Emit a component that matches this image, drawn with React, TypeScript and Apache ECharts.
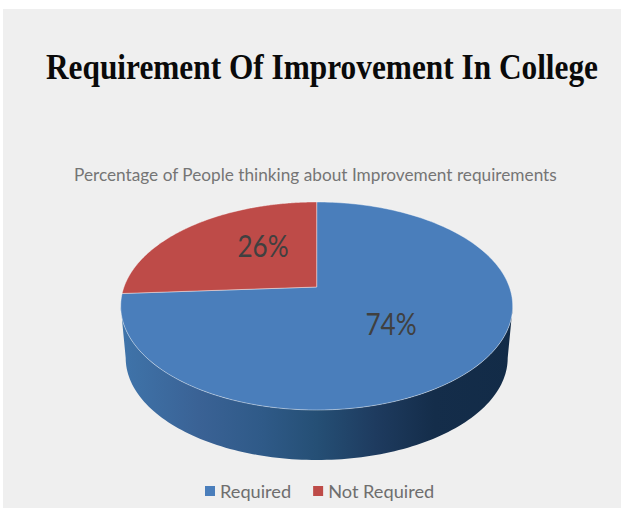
import React, { useEffect, useRef } from "react";
import * as echarts from "echarts";

const categories = ["Required", "Not Required"];
const values = [74, 26];
const valueLabels = ["74%", "26%"];
const sliceColors = ["#4a7ebb", "#be4b48"];
const titleText = "Requirement Of Improvement In College";
const subtitleText = "Percentage of People thinking about Improvement requirements";

const TOP = { cx: 316.7, cy: 306, rx: 196, ry: 104 };
const BOTTOM = { cx: 316.7, cy: 358, rx: 191, ry: 102 };
const APEX = { x: 316.7, y: 287 };
const LABEL_POS = [
  { x: 391, y: 323 },
  { x: 263, y: 245 },
];

// Where a ray from the apex at clockwise angle a (from 12 o'clock) meets the ellipse, as ellipse parameter t.
function rayParam(a: number): number {
  const k = TOP.ry / TOP.rx;
  const dx = Math.sin(a);
  const dy = -k * Math.cos(a);
  const ox = (APEX.x - TOP.cx) / TOP.rx;
  const oy = (APEX.y - TOP.cy) / TOP.ry;
  const ux = dx / TOP.rx;
  const uy = dy / TOP.ry;
  const A = ux * ux + uy * uy;
  const B = 2 * (ox * ux + oy * uy);
  const C = ox * ox + oy * oy - 1;
  const s = (-B + Math.sqrt(B * B - 4 * A * C)) / (2 * A);
  const ex = ox + ux * s;
  const ey = oy + uy * s;
  let t = Math.atan2(ex, -ey);
  if (t < 0) t += Math.PI * 2;
  return t;
}

function ellipsePoint(e: typeof TOP, t: number): number[] {
  return [e.cx + e.rx * Math.sin(t), e.cy - e.ry * Math.cos(t)];
}

function sliceAngles(i: number): number[] {
  const total = values.reduce((a, b) => a + b, 0);
  const before = values.slice(0, i).reduce((a, b) => a + b, 0);
  return [(before / total) * Math.PI * 2, ((before + values[i]) / total) * Math.PI * 2];
}

function renderSlice(params: any, api: any) {
  const i = params.seriesIndex;
  const [a0, a1] = sliceAngles(i);
  const t0 = a0 === 0 ? 0 : rayParam(a0);
  let t1 = rayParam(a1 - 1e-6);
  if (t1 < t0) t1 += Math.PI * 2;
  const pts: number[][] = [[APEX.x, APEX.y]];
  const steps = 240;
  for (let s = 0; s <= steps; s++) pts.push(ellipsePoint(TOP, t0 + ((t1 - t0) * s) / steps));
  const children: any[] = [];
  if (i === 0) {
    const wall: number[][] = [];
    for (let s = 0; s <= 120; s++) wall.push(ellipsePoint(TOP, Math.PI / 2 + (Math.PI * s) / 120));
    for (let s = 0; s <= 120; s++) wall.push(ellipsePoint(BOTTOM, (Math.PI * 3) / 2 - (Math.PI * s) / 120));
    children.push({
      type: "polygon",
      shape: { points: wall },
      style: {
        fill: {
          type: "linear", x: 0, y: 0, x2: 1, y2: 0,
          colorStops: [
            { offset: 0, color: "#3f74aa" },
            { offset: 0.2, color: "#3a6295" },
            { offset: 0.36, color: "#2f5a88" },
            { offset: 0.5, color: "#254f75" },
            { offset: 0.65, color: "#1e3b5f" },
            { offset: 0.8, color: "#142d4a" },
            { offset: 1, color: "#122b47" },
          ],
        },
      },
    });
  }
  children.push({
    type: "polygon",
    shape: { points: pts },
    style: { fill: api.visual("color"), stroke: "rgba(255,255,255,0.4)", lineWidth: 1 },
  });
  children.push({
    type: "text",
    z2: 10,
    x: LABEL_POS[i].x,
    y: LABEL_POS[i].y,
    scaleX: 0.87,
    style: {
      text: valueLabels[i],
      x: 0,
      y: 0,
      align: "center",
      verticalAlign: "middle",
      fill: "#404040",
      font: "30px Lato",
    },
  });
  return { type: "group", children };
}

export default function App() {
  const ref = useRef<HTMLDivElement>(null);
  useEffect(() => {
    document.body.style.margin = "0";
    document.body.style.background = "#ffffff";
    const chart = echarts.init(ref.current!, undefined, { renderer: "svg" });
    chart.setOption({
      animation: false,
      backgroundColor: "#ffffff",
      graphic: [
        { type: "rect", z: -10, shape: { x: 3, y: 9, width: 618, height: 499 }, style: { fill: "#efefef" } },
        {
          type: "text", x: 46, y: 67, scaleX: 0.895, z: 5,
          style: { text: titleText, font: "bold 35px 'Liberation Serif'", fill: "#0a0a0a", align: "left", verticalAlign: "middle" },
        },
        {
          type: "text", x: 74, y: 174, scaleX: 0.958, z: 5,
          style: { text: subtitleText, font: "18px Lato", fill: "#757575", align: "left", verticalAlign: "middle" },
        },
      ],
      legend: {
        data: categories,
        left: 200,
        top: 477,
        icon: "rect",
        itemWidth: 10,
        itemHeight: 10,
        itemGap: 22,
        textStyle: { fontFamily: "Lato", fontSize: 18.2, color: "#6e6e6e" },
      },
      series: categories.map((name, i) => ({
        type: "custom",
        name,
        coordinateSystem: "none",
        renderItem: renderSlice,
        itemStyle: { color: sliceColors[i] },
        data: [[values[i]]],
        silent: true,
      })),
    });
    return () => chart.dispose();
  }, []);
  return <div ref={ref} style={{ width: 621, height: 508 }} />;
}
